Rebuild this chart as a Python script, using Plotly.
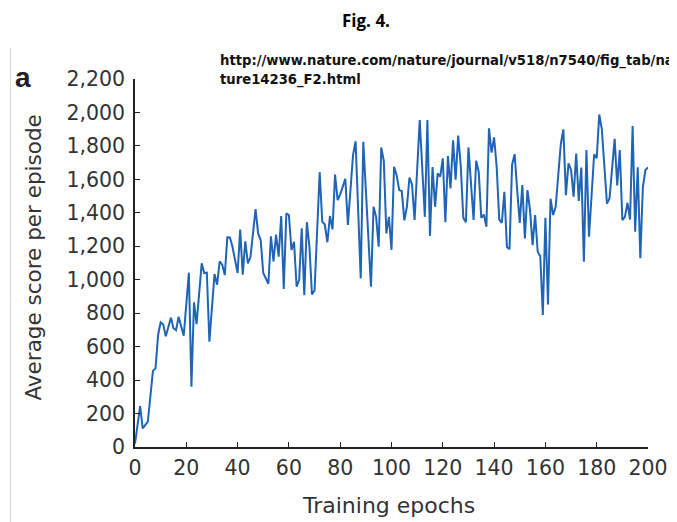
import plotly.graph_objects as go

# Data (epoch, average score per episode)
epochs = [0, 2, 3, 5, 7, 8, 9, 10, 11, 12, 14, 15, 16, 17, 18, 19, 21, 22, 23, 24,
          26, 27, 28, 29, 31, 32, 33, 34, 35, 36, 37, 38, 40, 41, 42, 43, 44, 45, 47, 48,
          49, 50, 52, 53, 54, 55, 56, 57, 58, 59, 60, 61, 62, 63, 64, 65, 66, 67, 68, 69,
          70, 72, 73, 74, 75, 76, 77, 78, 79, 80, 82, 83, 85, 86, 88, 89, 92, 93, 94, 95,
          96, 97, 98, 99, 100, 101, 102, 103, 104, 105, 106, 107, 108, 109, 111, 113, 114, 115, 116, 117,
          118, 119, 120, 121, 122, 123, 124, 125, 126, 127, 128, 129, 130, 132, 133, 134, 135, 136, 137, 138,
          139, 140, 141, 142, 143, 144, 145, 146, 147, 148, 149, 150, 151, 152, 153, 154, 155, 156, 157, 158,
          159, 160, 161, 162, 163, 164, 166, 167, 168, 169, 170, 171, 172, 173, 174, 175, 176, 177, 179, 180,
          181, 182, 184, 185, 187, 188, 189, 190, 191, 192, 193, 194, 195, 196, 197, 198, 199, 200]
scores = [20, 245, 112, 152, 455, 470, 670, 745, 732, 662, 773, 710, 698, 779, 720, 665, 1042, 360, 865, 735,
          1098, 1040, 1042, 630, 1034, 970, 1110, 1090, 1028, 1253, 1252, 1197, 1040, 1300, 1030, 1230, 1098, 1134, 1422, 1277,
          1237, 1040, 976, 1259, 1110, 1270, 1138, 1381, 945, 1397, 1387, 1178, 1227, 958, 1000, 1307, 908, 1344, 1197, 912,
          936, 1643, 1347, 1330, 1224, 1381, 1301, 1629, 1476, 1510, 1603, 1327, 1745, 1828, 1008, 1825, 958, 1436, 1376, 1197,
          1791, 1710, 1277, 1376, 1178, 1675, 1625, 1536, 1530, 1355, 1436, 1611, 1570, 1357, 1955, 1376, 1955, 1261, 1673, 1436,
          1636, 1616, 1726, 1344, 1739, 1546, 1833, 1598, 1862, 1680, 1370, 1344, 1791, 1357, 1711, 1646, 1370, 1390, 1317, 1905,
          1760, 1851, 1675, 1361, 1339, 1526, 1195, 1182, 1686, 1751, 1536, 1340, 1566, 1247, 1536, 1417, 1207, 1387, 1167, 1140,
          789, 1370, 852, 1484, 1387, 1436, 1810, 1899, 1506, 1696, 1656, 1496, 1755, 1471, 1670, 1108, 1775, 1257, 1750, 1726,
          1988, 1900, 1455, 1486, 1842, 1563, 1775, 1357, 1376, 1460, 1360, 1919, 1287, 1672, 1128, 1554, 1656, 1672]

x_ticks = [0, 20, 40, 60, 80, 100, 120, 140, 160, 180, 200]
y_ticks = [0, 200, 400, 600, 800, 1000, 1200, 1400, 1600, 1800, 2000, 2200]

OFF = 8  # page body margin
W, H = 677 - OFF, 522 - OFF
L, R, T, B = 135.3 - OFF, 647.7 - OFF, 79 - OFF, 447 - OFF
pw, ph = R - L, B - T


def px(x):
    return (x - OFF - L) / pw


def py(y):
    return (B - (y - OFF)) / ph


FONT = "DejaVu Sans, sans-serif"
BFONT = "Liberation Sans, Arial, sans-serif"
fig = go.Figure()
fig.add_trace(go.Scatter(x=epochs, y=scores, mode="lines",
                         line=dict(color="#2064b6", width=2), showlegend=False))

axis_common = dict(showline=True, linecolor="#222", linewidth=1.5, ticks="inside",
                   ticklen=5, tickwidth=1.3, tickcolor="#222", showgrid=False, zeroline=False,
                   tickfont=dict(family=FONT, size=20.5, color="#333"))
fig.update_xaxes(range=[0, 200], tickvals=x_ticks, ticklabelstandoff=2, **axis_common)
fig.update_yaxes(range=[0, 2200], tickvals=y_ticks, tickformat=",", ticklabelstandoff=4, **axis_common)

ann = [
    dict(text="<b>Fig. 4.</b>", x=px(366), y=py(20), font=dict(family="Open Sans, sans-serif", size=17, color="#000"),
         xanchor="center", yanchor="middle"),
    dict(text="<b>http://www.nature.com/nature/journal/v518/n7540/fig_tab/na</b>", x=px(218), y=py(61),
         font=dict(family="DejaVu Sans, sans-serif", size=13.2, color="#111"), xanchor="left", yanchor="middle"),
    dict(text="<b>ture14236_F2.html</b>", x=px(218), y=py(80),
         font=dict(family="DejaVu Sans, sans-serif", size=13.2, color="#111"), xanchor="left", yanchor="middle"),
    dict(text="<b>a</b>", x=px(23), y=py(78), font=dict(family=BFONT, size=28, color="#222"),
         xanchor="center", yanchor="middle"),
    dict(text="Average score per episode", x=px(33), y=py(258), textangle=-90,
         font=dict(family=FONT, size=21.5, color="#333"), xanchor="center", yanchor="middle"),
    dict(text="Training epochs", x=px(389), y=py(505),
         font=dict(family=FONT, size=22, color="#333"), xanchor="center", yanchor="middle"),
]
for a in ann:
    fig.add_annotation(xref="paper", yref="paper", showarrow=False, **a)

fig.add_shape(type="line", xref="paper", yref="paper", x0=px(11), x1=px(11), y0=py(48), y1=py(522),
              line=dict(color="#d8d8d8", width=1))

fig.update_layout(width=W, height=H, plot_bgcolor="white", paper_bgcolor="white",
                  margin=dict(l=L, r=W - R, t=T, b=H - B, autoexpand=False))
fig.write_html("out.html")
